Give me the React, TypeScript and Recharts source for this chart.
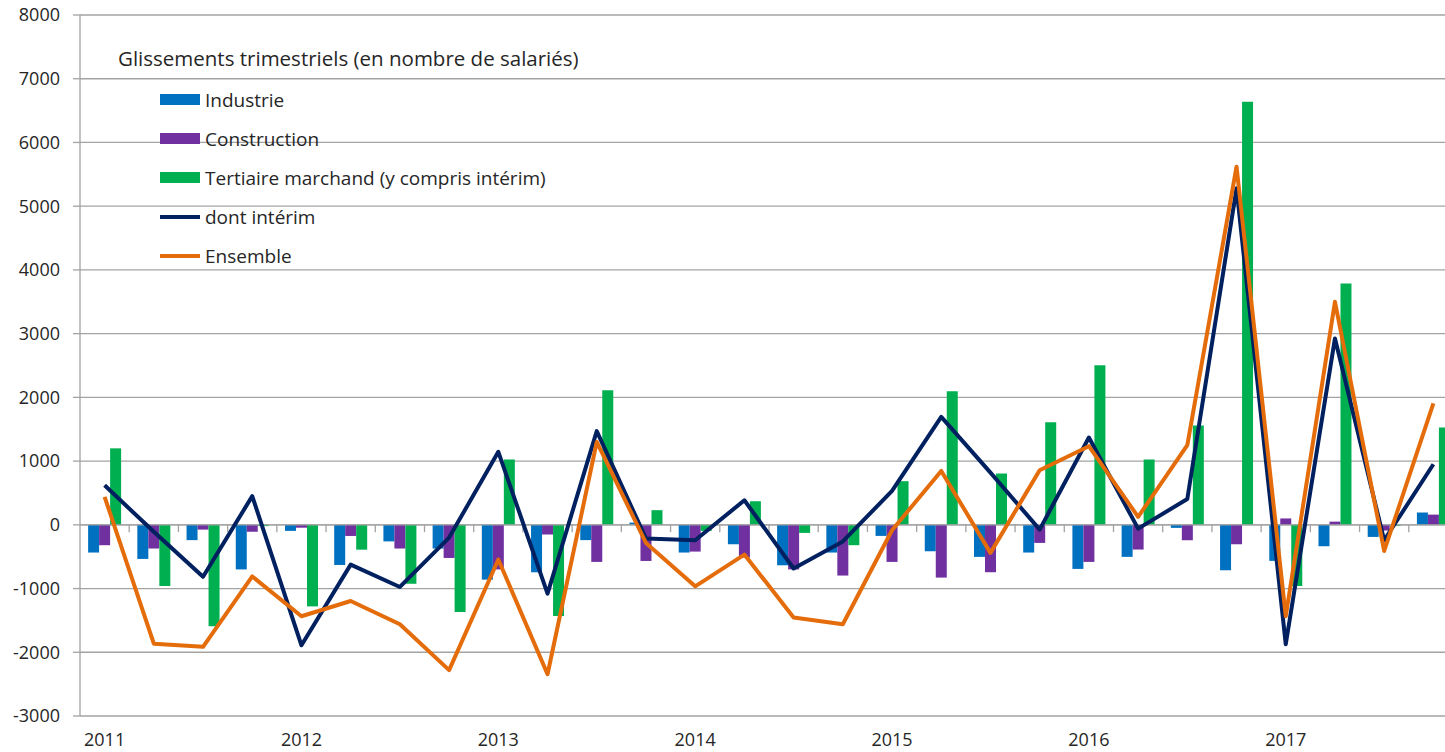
import { Bar, CartesianGrid, ComposedChart, Legend, Line, ReferenceLine, XAxis, YAxis } from 'recharts'

const FONT = '"Open Sans", "DejaVu Sans", sans-serif'

const years = ['2011', '2012', '2013', '2014', '2015', '2016', '2017']
const quarterNames = ['T1', 'T2', 'T3', 'T4']
const quarters = years.flatMap((y) => quarterNames.map((q) => `${q} ${y}`))

// glissements trimestriels, en nombre de salariés
const industrie = [
  -435, -535, -240, -700,
  -95, -630, -260, -372,
  -860, -745, -240, 35,
  -435, -305, -635, -435,
  -174, -415, -503, -435,
  -692, -503, -48, -713,
  -566, -336, -190, 193,
]
const construction = [
  -320, -372, -75, -110,
  -45, -175, -372, -520,
  -700, -152, -582, -567,
  -420, -515, -700, -796,
  -582, -828, -744, -284,
  -582, -388, -242, -305,
  100, 50, -90, 160,
]
const tertiaire = [
  1200, -960, -1590, -20,
  -1280, -390, -925, -1367,
  1025, -1430, 2113, 230,
  -95, 370, -127, -320,
  685, 2097, 805, 1610,
  2505, 1025, 1560, 6640,
  -960, 3788, -15, 1527,
]
const interim = [
  620, -110, -815, 450,
  -1890, -625, -975, -200,
  1145, -1080, 1470, -215,
  -242, 385, -686, -260,
  532, 1694, 820, -75,
  1370, -60, 405, 5280,
  -1875, 2925, -242, 950,
]
const ensemble = [
  440, -1865, -1915, -810,
  -1435, -1195, -1560, -2280,
  -545, -2345, 1300, -284,
  -965, -467, -1455, -1560,
  -85, 846, -440, 857,
  1234, 124, 1250, 5620,
  -1435, 3500, -410, 1905,
]

const legendOrder = [
  'Industrie',
  'Construction',
  'Tertiaire marchand (y compris intérim)',
  'dont intérim',
  'Ensemble',
]

const yTicks = [-3000, -2000, -1000, 0, 1000, 2000, 3000, 4000, 5000, 6000, 7000, 8000]
const boundaries = quarters.map((_, i) => i).slice(1)

const data = quarters.map((q, i) => ({
  q,
  pos: i + 0.5,
  industrie: industrie[i],
  construction: construction[i],
  tertiaire: tertiaire[i],
  interim: interim[i],
  ensemble: ensemble[i],
}))

const GRID = '#a3a3a3'

function YearTick(props: any) {
  const { x, y, payload } = props
  const v: string = payload.value
  if (!v.startsWith('T1')) return <g />
  return (
    <text x={x} y={y + 30} textAnchor="middle" fontSize={18} fontFamily={FONT} fill="#262626">
      {v.slice(3)}
    </text>
  )
}

function renderLegend(props: any) {
  const items = [...(props.payload || [])].sort(
    (a: any, b: any) => legendOrder.indexOf(a.value) - legendOrder.indexOf(b.value)
  )
  return (
    <div style={{ fontFamily: FONT, fontSize: 19, color: '#262626' }}>
      <div style={{ height: 36, lineHeight: '36px', whiteSpace: 'nowrap', fontSize: 20.5 }}>
        Glissements trimestriels (en nombre de salariés)
      </div>
      <div style={{ marginTop: 4 }}>
        {items.map((p: any) => (
          <div key={p.value} style={{ display: 'flex', alignItems: 'center', height: 39, marginLeft: 42 }}>
            <span
              style={{
                display: 'inline-block',
                width: 40,
                height: p.type === 'line' ? 4 : 11,
                background: p.color,
              }}
            />
            <span style={{ marginLeft: 5, whiteSpace: 'nowrap' }}>{p.value}</span>
          </div>
        ))}
      </div>
    </div>
  )
}

export default function App() {
  return (
    <div
      style={{
        position: 'absolute',
        left: 0,
        top: 0,
        width: 1445,
        height: 752,
        overflow: 'hidden',
        background: '#fff',
      }}
    >
      <ComposedChart
        width={1470}
        height={752}
        data={data}
        margin={{ top: 15, right: 12, left: 0, bottom: 0 }}
        barCategoryGap="16.5%"
        barGap={0}
      >
        <CartesianGrid vertical={false} stroke={GRID} strokeWidth={1.3} />
        <XAxis
          dataKey="q"
          interval={0}
          height={36}
          axisLine={false}
          tickLine={false}
          tickSize={0}
          tickMargin={0}
          tick={(p: any) => <YearTick {...p} />}
        />
        <XAxis xAxisId="num" dataKey="pos" type="number" domain={[0, quarters.length]} allowDataOverflow hide />
        <YAxis
          width={80}
          domain={[-3000, 8000]}
          ticks={yTicks}
          interval={0}
          allowDataOverflow
          axisLine={{ stroke: GRID, strokeWidth: 1.3 }}
          tickLine={{ stroke: GRID, strokeWidth: 1.3 }}
          tickSize={7}
          tickMargin={13}
          tick={{ fontSize: 18, fontFamily: FONT, fill: '#262626' }}
        />
        <ReferenceLine y={0} stroke={GRID} strokeWidth={1.3} />
        {boundaries.map((k) => (
          <ReferenceLine
            key={k}
            xAxisId="num"
            segment={[
              { x: k, y: 0 },
              { x: k, y: -115 },
            ]}
            stroke={GRID}
            strokeWidth={1.3}
          />
        ))}
        <Bar dataKey="industrie" name="Industrie" fill="#0070C0" isAnimationActive={false} />
        <Bar dataKey="construction" name="Construction" fill="#7030A0" isAnimationActive={false} />
        <Bar
          dataKey="tertiaire"
          name="Tertiaire marchand (y compris intérim)"
          fill="#00B050"
          isAnimationActive={false}
        />
        <Line
          dataKey="interim"
          name="dont intérim"
          type="linear"
          stroke="#002060"
          strokeWidth={4}
          strokeLinejoin="round"
          dot={false}
          activeDot={false}
          legendType="line"
          isAnimationActive={false}
        />
        <Line
          dataKey="ensemble"
          name="Ensemble"
          type="linear"
          stroke="#E46C0A"
          strokeWidth={4}
          strokeLinejoin="round"
          dot={false}
          activeDot={false}
          legendType="line"
          isAnimationActive={false}
        />
        <Legend
          layout="vertical"
          align="center"
          verticalAlign="middle"
          content={renderLegend}
          wrapperStyle={{ left: 118, top: 40, width: 600, height: 240 }}
        />
      </ComposedChart>
    </div>
  )
}
